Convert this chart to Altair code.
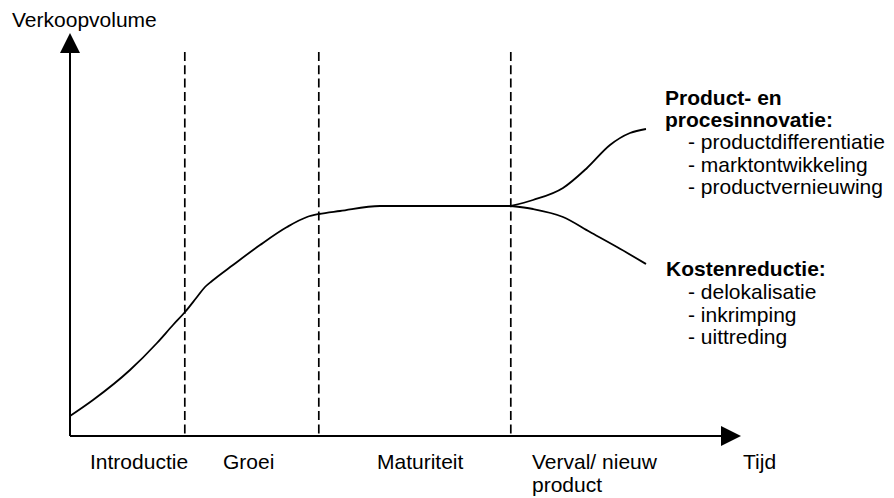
import altair as alt
import pandas as pd

# ---- data (time units / volume units) ----
# main product-life-cycle curve
curve_t = [0, 23, 60, 87, 103, 115, 127, 135, 142, 163, 190, 217, 237, 249, 270, 310, 380, 420, 441]
curve_v = [20, 36, 66, 93, 111, 124, 139, 149, 155, 171, 191, 209, 219, 222, 225, 230, 230, 230, 230]
# branch: product- en procesinnovatie (up)
up_t = [441, 463, 493, 517, 540, 560, 576]
up_v = [230, 236, 248, 268, 291, 303, 307]
# branch: kostenreductie (down)
down_t = [441, 463, 493, 520, 547, 576]
down_v = [230, 227, 219, 204, 189, 172]

# phase boundaries
boundary_t = [114.8, 248.8, 440.8]
boundary_top = [384, 384, 384]

# axes extents (arrow tips)
x_axis_tip = 671
y_axis_tip = 403
arrow_len = 20

# phase labels under the time axis
phase_labels = ["Introductie", "Groei", "Maturiteit", "Verval/ nieuw", "product", "Tijd"]
phase_label_t = [20, 153, 307, 462, 462, 673]
phase_label_v = [-32.5, -32.5, -32.5, -32.5, -55.5, -32.5]

# y axis title
y_title = ["Verkoopvolume"]
y_title_t = [-58]
y_title_v = [409]

# annotation headers (bold)
head_labels = ["Product- en", "procesinnovatie:", "Kostenreductie:"]
head_t = [595, 595, 596]
head_v = [331.5, 309, 160]

# annotation items
item_labels = ["- productdifferentiatie", "- marktontwikkeling", "- productvernieuwing",
               "- delokalisatie", "- inkrimping", "- uittreding"]
item_t = [618, 618, 618, 618, 618, 618]
item_v = [287, 264.5, 242, 137, 114.5, 92]

# ---- chart ----
W, H = 878, 490
xs = alt.Scale(domain=[-62, 816], nice=False, zero=False)
ys = alt.Scale(domain=[-62, 428], nice=False, zero=False)
FONT = "Liberation Sans"
FS = 21

def X(f):
    return alt.X(f, type="quantitative", scale=xs, axis=None)

def Y(f):
    return alt.Y(f, type="quantitative", scale=ys, axis=None)

curve_df = pd.DataFrame({"t": curve_t, "v": curve_v})
up_df = pd.DataFrame({"t": up_t, "v": up_v})
down_df = pd.DataFrame({"t": down_t, "v": down_v})

curve = alt.Chart(curve_df).mark_line(color="black", strokeWidth=1.8, interpolate="monotone").encode(
    x=X("t"), y=Y("v"))
up = alt.Chart(up_df).mark_line(color="black", strokeWidth=1.8, interpolate="monotone").encode(
    x=X("t"), y=Y("v"))
down = alt.Chart(down_df).mark_line(color="black", strokeWidth=1.8, interpolate="monotone").encode(
    x=X("t"), y=Y("v"))

bound_df = pd.DataFrame({"t": boundary_t, "top": boundary_top, "bottom": [0] * len(boundary_t)})
bounds = alt.Chart(bound_df).mark_rule(color="black", strokeWidth=1.7, strokeDash=[9, 4.3]).encode(
    x=X("t"), y=Y("top"), y2="bottom")

xaxis_df = pd.DataFrame({"t0": [0], "t1": [x_axis_tip - arrow_len], "v": [0]})
xaxis = alt.Chart(xaxis_df).mark_rule(color="black", strokeWidth=2).encode(
    x=X("t0"), x2="t1", y=Y("v"))
yaxis_df = pd.DataFrame({"t": [0], "v0": [0], "v1": [y_axis_tip - arrow_len]})
yaxis = alt.Chart(yaxis_df).mark_rule(color="black", strokeWidth=2).encode(
    x=X("t"), y=Y("v0"), y2="v1")

xarrow_df = pd.DataFrame({"t": [x_axis_tip - arrow_len / 2], "v": [0]})
xarrow = alt.Chart(xarrow_df).mark_point(
    shape="M1,0L-1,-1L-1,1Z", size=arrow_len ** 2, filled=True, color="black", opacity=1
).encode(x=X("t"), y=Y("v"))
yarrow_df = pd.DataFrame({"t": [0], "v": [y_axis_tip - arrow_len / 2]})
yarrow = alt.Chart(yarrow_df).mark_point(
    shape="M0,-1L1,1L-1,1Z", size=arrow_len ** 2, filled=True, color="black", opacity=1
).encode(x=X("t"), y=Y("v"))

def text_layer(labels, ts, vs, bold=False):
    df = pd.DataFrame({"label": labels, "t": ts, "v": vs})
    return alt.Chart(df).mark_text(
        align="left", baseline="alphabetic", font=FONT, fontSize=FS,
        fontWeight="bold" if bold else "normal", color="black"
    ).encode(x=X("t"), y=Y("v"), text="label:N")

phase_text = text_layer(phase_labels, phase_label_t, phase_label_v)
ytitle_text = text_layer(y_title, y_title_t, y_title_v)
head_text = text_layer(head_labels, head_t, head_v, bold=True)
item_text = text_layer(item_labels, item_t, item_v)

chart = alt.layer(
    bounds, xaxis, yaxis, xarrow, yarrow, curve, up, down,
    phase_text, ytitle_text, head_text, item_text
).properties(
    width=W, height=H, autosize="none", padding=0, background="white"
).configure_view(stroke=None)

chart.save("out.html", embed_options={"renderer": "svg", "actions": False})
